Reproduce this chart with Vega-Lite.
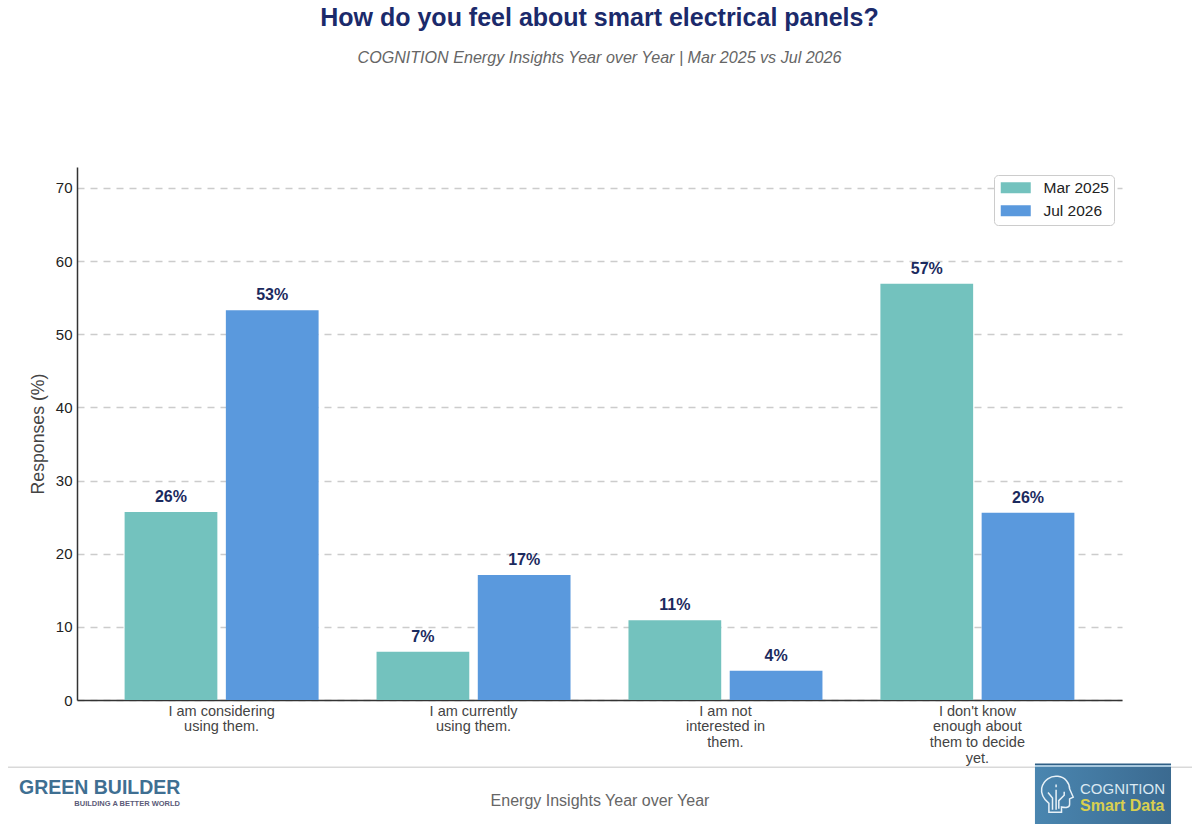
{
  "$schema": "https://vega.github.io/schema/vega-lite/v6.json",
  "width": 1045,
  "height": 533,
  "autosize": {"type": "none"},
  "padding": {"left": 77, "top": 167, "right": 78, "bottom": 133},
  "background": "white",
  "title": {
    "text": "How do you feel about smart electrical panels?",
    "subtitle": "COGNITION Energy Insights Year over Year | Mar 2025 vs Jul 2026",
    "anchor": "middle",
    "frame": "group",
    "offset": 101,
    "font": "Liberation Sans",
    "fontSize": 25,
    "fontWeight": "bold",
    "color": "#1b2a6b",
    "subtitleFont": "Liberation Sans",
    "subtitleFontSize": 16.1,
    "subtitleFontStyle": "italic",
    "subtitleColor": "#666666",
    "subtitlePadding": 19
  },
  "config": {"view": {"stroke": null}},
  "resolve": {"scale": {"x": "independent"}, "axis": {"x": "independent"}},
  "layer": [
    {
      "data": {
        "values": [
          {"answer": "I am considering\nusing them.", "period": "Mar 2025", "responses": 25.7, "label": "26%"},
          {"answer": "I am considering\nusing them.", "period": "Jul 2026", "responses": 53.3, "label": "53%"},
          {"answer": "I am currently\nusing them.", "period": "Mar 2025", "responses": 6.6, "label": "7%"},
          {"answer": "I am currently\nusing them.", "period": "Jul 2026", "responses": 17.1, "label": "17%"},
          {"answer": "I am not\ninterested in\nthem.", "period": "Mar 2025", "responses": 10.9, "label": "11%"},
          {"answer": "I am not\ninterested in\nthem.", "period": "Jul 2026", "responses": 4, "label": "4%"},
          {"answer": "I don't know\nenough about\nthem to decide\nyet.", "period": "Mar 2025", "responses": 56.9, "label": "57%"},
          {"answer": "I don't know\nenough about\nthem to decide\nyet.", "period": "Jul 2026", "responses": 25.6, "label": "26%"}
        ]
      },
      "encoding": {
        "x": {
          "field": "answer",
          "type": "nominal",
          "sort": null,
          "title": null,
          "scale": {"paddingInner": 0.23, "paddingOuter": 0.189},
          "axis": {
            "labelAngle": 0,
            "labelExpr": "split(datum.label, '\\n')",
            "labelFont": "Liberation Sans",
            "labelFontSize": 14.5,
            "labelColor": "#444444",
            "labelLineHeight": 15.7,
            "labelPadding": 4,
            "labelLimit": 0,
            "ticks": false,
            "domainColor": "#333333",
            "domainWidth": 1.5,
            "grid": false
          }
        },
        "xOffset": {
          "field": "period",
          "sort": ["Mar 2025", "Jul 2026"],
          "scale": {"paddingInner": 0.084}
        },
        "y": {
          "field": "responses",
          "type": "quantitative",
          "title": "Responses (%)",
          "scale": {"domain": [0, 72.87], "nice": false},
          "axis": {
            "values": [0, 10, 20, 30, 40, 50, 60, 70],
            "labelFont": "Liberation Sans",
            "labelFontSize": 15,
            "labelColor": "#222222",
            "labelPadding": 5,
            "ticks": false,
            "domainColor": "#333333",
            "domainWidth": 1.5,
            "grid": true,
            "gridColor": "#cccccc",
            "gridDash": [7, 6],
            "gridWidth": 1.5,
            "titleFont": "Liberation Sans",
            "titleFontSize": 17.7,
            "titleFontWeight": "normal",
            "titleColor": "#444444",
            "titlePadding": 8
          }
        }
      },
      "layer": [
        {
          "mark": {"type": "bar"},
          "encoding": {
            "color": {
              "field": "period",
              "type": "nominal",
              "sort": ["Mar 2025", "Jul 2026"],
              "scale": {"domain": ["Mar 2025", "Jul 2026"], "range": ["#73c2be", "#5a99dd"]},
              "legend": {
                "title": null,
                "orient": "none",
                "legendX": 917,
                "legendY": 8,
                "fillColor": "white",
                "strokeColor": "#cccccc",
                "cornerRadius": 4,
                "padding": 5,
                "symbolType": "M-3,-1.1H3V1.1H-3Z",
                "symbolSize": 100,
                "symbolOffset": 9,
                "symbolStrokeWidth": 0,
                "symbolOpacity": 1,
                "labelFont": "Liberation Sans",
                "labelFontSize": 15.5,
                "labelColor": "#222222",
                "labelOffset": 20,
                "rowPadding": 6
              }
            }
          }
        },
        {
          "mark": {
            "type": "text",
            "baseline": "bottom",
            "dy": -7,
            "font": "Liberation Sans",
            "fontSize": 16,
            "fontWeight": "bold",
            "color": "#1b2a5e"
          },
          "encoding": {"text": {"field": "label"}}
        }
      ]
    },
    {
      "data": {"values": [{"part": "footer"}]},
      "encoding": {
        "x": {"datum": 50, "type": "quantitative", "scale": {"domain": [0, 100], "nice": false, "zero": false}, "axis": null}
      },
      "layer": [
        {
          "mark": {"type": "rule", "color": "#d9d9d9", "strokeWidth": 1.5},
          "encoding": {
            "x": {"datum": -6.6, "type": "quantitative", "scale": {"domain": [0, 100], "nice": false, "zero": false}, "axis": null},
            "x2": {"datum": 106.7},
            "y": {"datum": -9.2, "type": "quantitative"}
          }
        },
        {
          "mark": {"type": "rect", "color": "#2f5f85"},
          "encoding": {
            "x": {"datum": 91.67, "type": "quantitative", "scale": {"domain": [0, 100], "nice": false, "zero": false}, "axis": null},
            "x2": {"datum": 104.69},
            "y": {"datum": -8.68, "type": "quantitative"},
            "y2": {"datum": -8.89}
          }
        },
        {
          "mark": {"type": "rect", "color": "#a8c8de"},
          "encoding": {
            "x": {"datum": 91.67, "type": "quantitative", "scale": {"domain": [0, 100], "nice": false, "zero": false}, "axis": null},
            "x2": {"datum": 104.69},
            "y": {"datum": -8.89, "type": "quantitative"},
            "y2": {"datum": -9.15}
          }
        },
        {
          "mark": {
            "type": "rect",
            "color": {"gradient": "linear", "x1": 0, "x2": 1, "y1": 0, "y2": 0, "stops": [{"offset": 0, "color": "#4a86b0"}, {"offset": 1, "color": "#3b6a90"}]}
          },
          "encoding": {
            "x": {"datum": 91.67, "type": "quantitative", "scale": {"domain": [0, 100], "nice": false, "zero": false}, "axis": null},
            "x2": {"datum": 104.69},
            "y": {"datum": -9.15, "type": "quantitative"},
            "y2": {"datum": -16.95}
          }
        },
        {
          "mark": {
            "type": "point",
            "filled": false,
            "shape": "M-0.9,2 L-0.9,1 C-1.5,0.5 -1.8,-0.1 -1.7,-0.7 C-1.5,-1.6 -0.7,-2.1 0.1,-2 C0.9,-1.9 1.4,-1.3 1.4,-0.6 L1.8,0.3 L1.4,0.5 L1.4,1.1 C1.4,1.5 1,1.5 0.5,1.4 L0.5,2 Z M-0.5,1.7 L-0.5,0.4 L-1,-0.2 M-1,-0.5 L-1,-0.5 M-0.1,1.7 L-0.1,-0.5 M-0.1,-1.1 L-0.1,-0.8 M0.2,1.6 L0.2,0.7 L0.8,0.1 L0.8,-0.3",
            "size": 324,
            "stroke": "#e8f1f7",
            "strokeWidth": 1.5,
            "opacity": 1
          },
          "encoding": {
            "x": {"datum": 93.78, "type": "quantitative"},
            "y": {"datum": -12.9, "type": "quantitative"}
          }
        },
        {
          "mark": {"type": "text", "text": "Energy Insights Year over Year", "font": "Liberation Sans", "fontSize": 16, "color": "#666666", "align": "center", "baseline": "middle"},
          "encoding": {"x": {"datum": 50.05, "type": "quantitative"}, "y": {"datum": -13.8, "type": "quantitative"}}
        },
        {
          "mark": {"type": "text", "text": "GREEN BUILDER", "font": "Liberation Sans", "fontSize": 19.5, "fontWeight": "bold", "color": "#3f6f92", "align": "left", "baseline": "middle"},
          "encoding": {"x": {"datum": -5.55, "type": "quantitative"}, "y": {"datum": -12.03, "type": "quantitative"}}
        },
        {
          "mark": {"type": "text", "text": "BUILDING A BETTER WORLD", "font": "Liberation Sans", "fontSize": 7.5, "fontWeight": "bold", "color": "#5b5b78", "align": "right", "baseline": "middle"},
          "encoding": {"x": {"datum": 9.86, "type": "quantitative"}, "y": {"datum": -14.2, "type": "quantitative"}}
        },
        {
          "mark": {"type": "text", "text": "COGNITION", "font": "Liberation Sans", "fontSize": 15, "color": "#dbe9f2", "align": "left", "baseline": "middle"},
          "encoding": {"x": {"datum": 95.98, "type": "quantitative"}, "y": {"datum": -12.17, "type": "quantitative"}}
        },
        {
          "mark": {"type": "text", "text": "Smart Data", "font": "Liberation Sans", "fontSize": 16, "fontWeight": "bold", "color": "#d9cf4f", "align": "left", "baseline": "middle"},
          "encoding": {"x": {"datum": 95.98, "type": "quantitative"}, "y": {"datum": -14.5, "type": "quantitative"}}
        }
      ]
    }
  ]
}
